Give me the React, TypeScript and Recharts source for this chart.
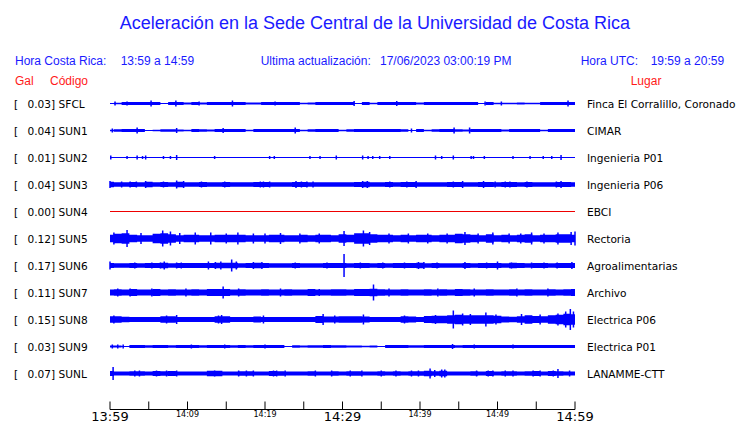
import React from 'react';
import { ComposedChart, Area, Scatter, ErrorBar, XAxis, YAxis } from 'recharts';

// ---- labels ----
const galValues = ['0.03', '0.04', '0.01', '0.04', '0.00', '0.12', '0.17', '0.11', '0.15', '0.03', '0.07'];
const stationCodes = ['SFCL', 'SUN1', 'SUN2', 'SUN3', 'SUN4', 'SUN5', 'SUN6', 'SUN7', 'SUN8', 'SUN9', 'SUNL'];
const placeNames = [
  'Finca El Corralillo, Coronado', 'CIMAR', 'Ingenieria P01', 'Ingenieria P06', 'EBCI', 'Rectoria',
  'Agroalimentarias', 'Archivo', 'Electrica P06', 'Electrica P01', 'LANAMME-CTT',
];
const timeTicks = [0, 5, 10, 15, 20, 25, 30, 35, 40, 45, 50, 55, 60];
const timeLabels: Record<number, string> = { 0: '13:59', 10: '14:09', 20: '14:19', 30: '14:29', 40: '14:39', 50: '14:49', 60: '14:59' };
const majorTicks = [0, 30, 60];

// ---- half-amplitude envelope, one value per minute (0..60) ----
const bandSFCL = [0.5,0.8,1.5,1.5,1.5,1.5,1.5,0.6,1.5,1.5, 1,1.5,1,1.5,1.5,1.5,1.5,1.5,1,1, 1.5,1.5,1.5,1.5,1.5,0.7,1,1.5,1.5,1.5, 1.5,1.5,0.6,1.5,0.8,1.5,1.5,1.5,1.5,1.5, 1,1.5,1.5,1.5,1.5,1.5,1.5,1.5,0.6,1.5, 0.8,0.8,0.7,1,0.7,0.8,1.5,1.5,1.5,1.5, 1.5];
const bandSUN1 = [0.8,1.3,1.5,1.5,1.5,0.6,0.8,1.2,1.2,1, 0.8,1.5,1.2,1,1.5,1.5,1.5,1.5,0.8,1.5, 1.5,1.5,1.5,1.5,1.5,0.8,1.2,1.5,1.5,1.5, 0.8,1.2,1.5,1.5,1.5,1.5,1.5,1.5,1.2,0.6, 1.5,0.8,1.2,1.5,1.5,1.2,1,1.5,1.5,1.5, 1.5,1,1.5,1.5,1.5,1.5,0.8,1.5,1.5,1.5, 1.5];
const bandSUN2 = [0.5,0.5,0.5,0.5,0.5,0.5,0.5,0.5,0.5,0.5, 0.5,0.5,0.5,0.5,0.5,0.5,0.5,0.5,0.5,0.5, 0.5,0.5,0.5,0.5,0.5,0.5,0.5,0.5,0.5,0.5, 0.5,0.5,0.5,0.5,0.5,0.5,0.5,0.5,0.5,0.5, 0.5,0.5,0.5,0.5,0.5,0.5,0.5,0.5,0.5,0.5, 0.5,0.5,0.5,0.5,0.5,0.5,0.5,0.5,0.5,0.5, 0.5];
const bandSUN3 = [2.8,2.3,2.3,2.5,2.3,2.8,2.3,2.5,2.3,2.8, 2.3,2.3,2.5,2.3,2.3,2.5,2.3,2.3,2.3,2.5, 2.5,2.3,2.3,2.3,2.5,2.5,2.3,2.3,2.3,2.3, 2.3,2.3,2.5,2.8,2.3,2.3,2.5,2.3,2.5,2.5, 2.3,2.3,2.3,2.3,2.5,2.5,2.3,2.3,2.5,2.5, 2.3,2.5,2.5,2.3,2.5,2.3,2.3,2.3,2.5,2.5, 2.3];
const bandSUN4 = [0.5,0.5,0.5,0.5,0.5,0.5,0.5,0.5,0.5,0.5, 0.5,0.5,0.5,0.5,0.5,0.5,0.5,0.5,0.5,0.5, 0.5,0.5,0.5,0.5,0.5,0.5,0.5,0.5,0.5,0.5, 0.5,0.5,0.5,0.5,0.5,0.5,0.5,0.5,0.5,0.5, 0.5,0.5,0.5,0.5,0.5,0.5,0.5,0.5,0.5,0.5, 0.5,0.5,0.5,0.5,0.5,0.5,0.5,0.5,0.5,0.5, 0.5];
const bandSUN5 = [3.7,4.7,5.2,3.7,3.2,3.2,4.7,5.2,4.2,3.2, 3.7,3.7,3.2,3.2,3.7,3.7,3.7,3.7,3.2,3.2, 3.2,3.7,3.7,3.2,3.2,3.7,3.2,3.7,3.7,3.2, 4.2,3.7,5.2,5.2,4.2,3.7,3.7,3.2,3.7,3.2, 3.7,3.7,3.2,3.7,3.7,4.7,4.2,3.7,3.2,4.2, 3.2,3.7,3.2,3.7,4.2,3.2,3.7,3.7,4.2,4.2, 3.7];
const bandSUN6 = [2.5,2.2,2.2,2.5,2.2,2.5,2.5,2.8,2.2,2.5, 2.5,2.5,2.5,2.5,2.8,2.8,2.8,2.2,2.5,2.8, 2.5,2.2,2.2,2.2,2.5,2.2,2.2,2.2,2.5,2.5, 2.5,2.2,2.5,2.5,2.2,2.5,2.2,2.5,2.5,2.5, 2.8,2.2,2.5,2.2,2.2,2.2,2.5,2.2,2.5,2.5, 2.5,2.2,2.8,2.5,2.2,2.5,2.5,2.2,2.5,2.5, 2.5];
const bandSUN7 = [3,3.2,3,3.5,3,3,3.5,3,3.2,3, 3,3.2,3,3.5,3.5,3.5,3,3.2,3,3, 3.2,3,3,3.2,3,3,3.5,3,3,3.2, 3.2,3,3.5,3.5,3.8,3.2,3,3,3.2,3, 3,3.2,3,3.2,3,3.5,3.2,3,3,3.2, 3,3,3.2,3,3.2,3,3,3.2,3,3.2, 3.5];
const bandSUN8 = [3.2,3.2,2.7,2.5,2.5,2.5,2.5,3.2,3.2,2.5, 2.5,2.5,2.5,2.5,3.2,3.2,2.5,2.5,2.5,2.9, 2.5,2.5,2.5,2.5,2.5,2.5,2.5,3.5,2.9,2.9, 3.2,3.2,3.2,2.9,2.5,2.5,2.5,2.5,3.2,2.9, 2.5,3.5,3.7,3.7,4.2,4.7,4.2,4.2,4.2,4.2, 3.7,2.9,2.7,3.2,4.2,3.5,3.2,4.2,4.7,5.7, 5.2];
const bandSUN9 = [1,1,0.5,1.5,1.5,1.2,1.5,1.5,1.2,1.5, 1.5,1.5,1.2,1.5,1.5,1.5,1.2,1.5,1.2,1.5, 1.5,1.5,1.5,0.5,1.2,1,1.2,1.2,1.5,1.2, 1.2,1,1,0.8,1,0.5,1.5,1.5,1.5,1.2, 1.2,1.5,1.5,1.5,1.5,1.2,1.5,1.5,1.5,1.5, 1.5,1.5,1.5,1.5,1.5,1.5,1.5,1.5,1.5,1.5, 1.5];
const bandSUNL = [2.5,2,2,2.2,2.2,2,2.5,2.2,2.5,2, 2,2,2,2.8,2.8,2,2,2.2,2.2,2, 2,2.5,2.2,2,2,2,2.2,2,2,2.2, 2,2.2,2.2,2,2,2.2,2,2.2,2,2.2, 2.2,2.8,2.2,2.8,2,2,2,2.2,2,2.5, 2,2.2,2.2,2,2.2,2.5,2,2.5,2.2,2, 2];

// ---- individual peaks: [minute, half-amplitude] ----
const spikesSFCL = [[0.65,2],[2.2,2],[5.3,3],[8.5,3],[11.5,2],[15.8,3],[21.3,2],[31.5,2.5],[37,2.5],[48.4,2],[50.5,2],[59.1,3]];
const spikesSUN1 = [[0.3,2],[3.5,3],[8.6,2.5],[14.6,2.5],[23.9,3],[38.9,2],[44.4,3],[46.4,3]];
const spikesSUN2 = [[0.1,2],[2.2,1.5],[3.5,2],[4.2,1.5],[4.6,2],[6.9,1.5],[7.8,1.5],[8.6,2.5],[13.5,1.5],[20.6,1.5],[21.2,1.5],[25.8,1.5],[27.1,1.5],[29.2,2],[32.6,2],[33.3,1.5],[33.9,1.5],[34.8,1.5],[36.1,1.5],[42,2],[42.8,1.5],[44.3,2],[46.6,1.5],[46.9,1.5],[48.3,1.5],[52,1.5],[54.2,1.5],[55.9,1.5],[57,1.5],[58.2,2.5]];
const spikesSUN3 = [[0,3.5],[1.5,3],[2.6,3],[3.4,3],[4.6,3.5],[6.9,3],[8.6,4],[9.5,3.5],[11.8,3],[14.8,3],[19.4,3],[19.8,3],[20.6,3],[24,3.5],[24.7,3],[25.4,3],[26.2,3],[32.6,3.5],[33.2,3.5],[36.1,3],[38.3,3],[39.5,3.5],[44.3,3],[45.5,3.5],[48.2,3.5],[49.7,3],[51,3],[51.6,3],[53.8,3],[57.6,3],[58.2,3.5]];
const spikesSUN4: number[][] = [];
const spikesSUN5 = [[0.5,6],[2.2,8.5],[4,5.5],[6.8,8],[7.8,7],[9,5.5],[11,6],[13,6],[15,5],[16.5,6],[18.5,5],[20,5],[22,5.5],[24.5,5],[27,5],[30.2,7.5],[32.7,8],[33.5,6.5],[36,5],[38.5,5],[41,5],[43.5,5],[45.8,6.5],[47.5,5],[49.4,6],[51.5,5],[53,5],[54.4,6],[56,5],[57.8,6],[59.5,6.5],[60,7]];
const spikesSUN6 = [[0,4],[3.2,3],[5.4,3],[6.5,3],[7,4],[8.6,3],[9.2,3],[12.7,4],[13.6,3.5],[14.3,4],[15.7,6],[16.3,4],[18.5,3.5],[19.6,3.5],[23.9,3],[28,3],[30.2,11.5],[32.3,3],[35.2,3],[38,3],[39.8,3.5],[40.5,3.5],[42.2,3],[45.8,3.5],[48.6,3],[50,4],[51.8,3],[54.4,3],[56,3],[57.7,3],[59.6,3.5]];
const spikesSUN7 = [[1,4],[2.6,4],[5.4,4],[9.8,4],[14.6,6],[16.6,4],[22,4],[27,3.5],[34,8],[36,4],[42.3,4],[47,4],[52.5,4],[56.5,4]];
const spikesSUN8 = [[0.5,4],[7.3,4],[8.6,4.5],[14,4],[14.4,4.5],[19.8,4],[27.5,5.5],[29,4],[32.7,5],[38,4],[42,4.5],[44.3,9],[45.5,6],[46.5,5.5],[48.5,7],[49.8,5],[53.1,5.5],[55.5,5],[57.8,6],[58.8,8],[59.4,10.5],[59.8,8]];
const spikesSUN9 = [[0.3,2],[1,2],[1.7,2],[10.5,2],[14.8,2],[20,2],[44.2,2.5],[47,2],[52,2]];
const spikesSUNL = [[0.4,6.5],[3.2,3],[3.8,3],[6,3],[7.3,3],[8.6,3],[13.5,3],[16.6,3],[17.6,3],[18.5,3],[21.1,3],[21.5,3],[22.6,3],[26.5,3],[28.6,3],[31,3],[32.5,3],[35,3],[36.9,3],[38.9,3],[39.8,3],[41.3,5],[41.9,3.5],[42.8,4],[43.2,4],[47.3,3],[48.8,3],[49.4,3],[51,3],[52,3],[54.6,3],[55.5,3],[57.2,3],[57.8,4.5],[59.3,3]];

const bands = [bandSFCL, bandSUN1, bandSUN2, bandSUN3, bandSUN4, bandSUN5, bandSUN6, bandSUN7, bandSUN8, bandSUN9, bandSUNL];
const spikes = [spikesSFCL, spikesSUN1, spikesSUN2, spikesSUN3, spikesSUN4, spikesSUN5, spikesSUN6, spikesSUN7, spikesSUN8, spikesSUN9, spikesSUNL];

// ---- styling ----
const TRACE_BLUE = '#0000ff';
const traceColors = stationCodes.map((c) => (c === 'SUN4' ? '#ee0000' : TRACE_BLUE));
const TEXT_BLUE = '#1a1aff';
const TEXT_RED = '#ff1a1a';
const SANS = '"Liberation Sans", Arial, sans-serif';
const DEJAVU = '"DejaVu Sans", sans-serif';
const LABEL_SIZE = 10.6;

const ROW_STEP = 27;
const ROW_OFFSET = 14;
const Y_MAX = 320;
const centerOf = (i: number) => ROW_OFFSET + ROW_STEP * i;
const rowCenters = stationCodes.map((_, i) => centerOf(i));

const bandData = bands.map((band, i) =>
  band.map((a, minute) => ({ t: minute, r: [centerOf(i) - a, centerOf(i) + a] }))
);
const spikeData = spikes.map((list, i) => list.map(([t, e]) => ({ t, y: centerOf(i), e })));

const RowLabel = (props: any) => {
  const { y, index } = props;
  return (
    <g>
      <text x={14} y={y} dy={4} fontFamily={DEJAVU} fontSize={LABEL_SIZE} fill="#000">[</text>
      <text x={27.5} y={y} dy={4} fontFamily={DEJAVU} fontSize={LABEL_SIZE} fill="#000">
        {`${galValues[index]}] ${stationCodes[index]}`}
      </text>
      <text x={587} y={y} dy={4} fontFamily={DEJAVU} fontSize={LABEL_SIZE} fill="#000">{placeNames[index]}</text>
    </g>
  );
};

const TimeTick = (props: any) => {
  const { x, y, payload } = props;
  const v = payload.value as number;
  const label = timeLabels[v];
  const major = majorTicks.includes(v);
  return (
    <g>
      <line x1={x} x2={x} y1={y - 8} y2={y} stroke="#000" strokeWidth={1} />
      {label ? (
        <text
          x={x}
          y={y + (major ? 11 : 7)}
          textAnchor="middle"
          fontFamily={DEJAVU}
          fontSize={major ? 13 : 8}
          fill="#000"
        >
          {label}
        </text>
      ) : null}
    </g>
  );
};

const Header = () => (
  <svg width={740} height={423} style={{ position: 'absolute', left: 0, top: 0, pointerEvents: 'none' }}>
    <text x={375} y={28.5} textAnchor="middle" fontFamily={SANS} fontSize={18} fill={TEXT_BLUE}>
      Aceleración en la Sede Central de la Universidad de Costa Rica
    </text>
    <g fontFamily={SANS} fontSize={12} fill={TEXT_BLUE}>
      <text x={15} y={65}>Hora Costa Rica:</text>
      <text x={120.7} y={65}>13:59 a 14:59</text>
      <text x={260.7} y={65}>Ultima actualización:</text>
      <text x={380} y={65}>17/06/2023 03:00:19 PM</text>
      <text x={580.7} y={65}>Hora UTC:</text>
      <text x={650.7} y={65}>19:59 a 20:59</text>
    </g>
    <g fontFamily={SANS} fontSize={12} fill={TEXT_RED}>
      <text x={15} y={85}>Gal</text>
      <text x={50} y={85}>Código</text>
      <text x={630.7} y={85}>Lugar</text>
    </g>
  </svg>
);

export default function App() {
  return (
    <div style={{ position: 'absolute', left: 0, top: 0, width: 740, height: 423, background: '#fff' }}>
      <ComposedChart width={740} height={423} margin={{ top: 89.5, right: 165, bottom: 0, left: 0 }}>
        <XAxis
          type="number"
          dataKey="t"
          domain={[0, 60]}
          ticks={timeTicks}
          interval={0}
          height={13.5}
          tickLine={false}
          tickSize={0}
          tickMargin={0}
          axisLine={{ stroke: '#000', strokeWidth: 1 }}
          tick={<TimeTick />}
          allowDataOverflow
        />
        <YAxis
          type="number"
          domain={[0, Y_MAX]}
          reversed
          ticks={rowCenters}
          interval={0}
          width={110}
          axisLine={false}
          tickLine={false}
          tick={<RowLabel />}
          allowDataOverflow
        />
        {bandData.map((d, i) => (
          <Area
            key={`band-${i}`}
            data={d}
            dataKey="r"
            type="step"
            stroke="none"
            fill={traceColors[i]}
            fillOpacity={1}
            dot={false}
            activeDot={false}
            isAnimationActive={false}
          />
        ))}
        {spikeData.map((d, i) =>
          d.length ? (
            <Scatter
              key={`spk-${i}`}
              data={d}
              dataKey="y"
              shape={() => <g />}
              isAnimationActive={false}
            >
              <ErrorBar dataKey="e" direction="y" width={0} stroke={traceColors[i]} strokeWidth={1.5} isAnimationActive={false} />
            </Scatter>
          ) : null
        )}
      </ComposedChart>
      <Header />
    </div>
  );
}
